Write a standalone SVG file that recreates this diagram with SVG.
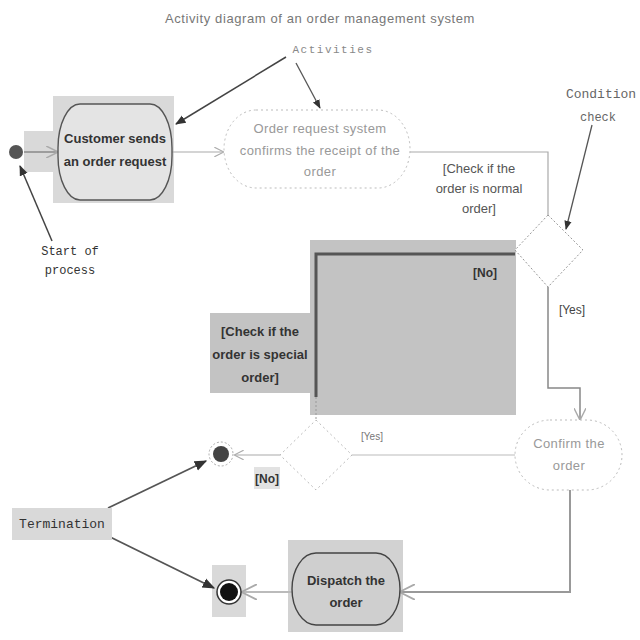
<svg xmlns="http://www.w3.org/2000/svg" width="640" height="640" viewBox="0 0 640 640">
<style>
.sans{font-family:"Liberation Sans",Arial,sans-serif;}
.mono{font-family:"Liberation Mono","Courier New",monospace;}
.bold{font-weight:bold;fill:#333;font-size:13px;}
.light{fill:#999;font-size:13px;letter-spacing:0.4px;}
.hl{fill:#d9d9d9;}
.grey{fill:none;stroke:#aaa;stroke-width:1.2;}
.faint{fill:none;stroke:#bbb;stroke-width:1;}
</style>
<defs>
<marker id="ad" viewBox="0 0 10 10" refX="9" refY="5" markerWidth="7" markerHeight="7" orient="auto-start-reverse"><path d="M0,1 L10,5 L0,9 z" fill="#333"/></marker>
<marker id="ao" viewBox="0 0 10 10" refX="9" refY="5" markerWidth="8" markerHeight="8" orient="auto-start-reverse"><path d="M0,0 L10,5 L0,10" fill="none" stroke="#aaa" stroke-width="1.2"/></marker>
</defs>
<rect width="640" height="640" fill="#fff"/>

<g id="title">
<text x="320" y="23" text-anchor="middle" class="sans" font-size="13" fill="#777" letter-spacing="0.6">Activity diagram of an order management system</text>
</g>

<g id="highlights">
<rect x="24" y="131" width="32" height="41" class="hl"/>
<rect x="53" y="96" width="121" height="107" class="hl"/>
<rect x="310" y="240" width="206" height="175" fill="#c3c3c3"/>
<rect x="210" y="313" width="100" height="80" fill="#c3c3c3"/>
<rect x="254" y="467" width="26" height="22" fill="#e2e2e2"/>
<rect x="288" y="540" width="115" height="92" fill="#d2d2d2"/>
<rect x="212" y="565" width="34" height="52" class="hl"/>
</g>

<g id="connectors">
<line x1="24" y1="152" x2="57" y2="152" stroke="#888" stroke-width="1.5" marker-end="url(#ao)"/>
<line x1="172" y1="152" x2="223" y2="152" class="grey" marker-end="url(#ao)"/>
<polyline points="410,152 548,152 548,215" class="grey"/>
<polyline points="515,254 316,254 316,397" fill="none" stroke="#555" stroke-width="3"/>
<line x1="316" y1="397" x2="316" y2="419" stroke="#999" stroke-width="1" stroke-dasharray="2 2"/>
<polyline points="548,287 548,388 580,388 580,419" fill="none" stroke="#888" stroke-width="1.5" marker-end="url(#ao)"/>
<line x1="515" y1="455" x2="352" y2="455" class="faint"/>
<line x1="280" y1="455" x2="235" y2="455" class="grey" marker-end="url(#ao)"/>
<polyline points="570,490 570,592 401,592" fill="none" stroke="#999" stroke-width="2" marker-end="url(#ao)"/>
<line x1="292" y1="592" x2="243" y2="592" stroke="#bbb" stroke-width="2" marker-end="url(#ao)"/>
<line x1="286" y1="57" x2="176" y2="124" stroke="#444" stroke-width="1.5" marker-end="url(#ad)"/>
<line x1="296" y1="63" x2="320" y2="108" stroke="#555" stroke-width="1.3" marker-end="url(#ad)"/>
<line x1="592" y1="125" x2="566" y2="229" stroke="#555" stroke-width="1.3" marker-end="url(#ad)"/>
<line x1="52" y1="241" x2="20" y2="166" stroke="#444" stroke-width="1.5" marker-end="url(#ad)"/>
<line x1="108" y1="508" x2="206" y2="461" stroke="#555" stroke-width="1.8" marker-end="url(#ad)"/>
<line x1="102" y1="533" x2="214" y2="588" stroke="#555" stroke-width="1.8" marker-end="url(#ad)"/>
</g>

<g id="start">
<circle cx="16" cy="152" r="7" fill="#555"/>
</g>

<g id="customer-sends">
<rect x="58" y="104" width="114" height="96" rx="22" ry="44" fill="#e4e4e4" stroke="#555" stroke-width="1.4"/>
<text x="115" y="143" text-anchor="middle" class="sans bold">Customer sends</text>
<text x="115" y="166" text-anchor="middle" class="sans bold">an order request</text>
</g>

<g id="order-request">
<rect x="224" y="110" width="186" height="78" rx="32" ry="39" fill="#fff" stroke="#bbb" stroke-dasharray="2 3"/>
<text x="320" y="133" text-anchor="middle" class="sans light">Order request system</text>
<text x="320" y="155" text-anchor="middle" class="sans light">confirms the receipt of the</text>
<text x="320" y="176" text-anchor="middle" class="sans light">order</text>
</g>

<g id="decision-normal">
<polygon points="548,215 583,250 548,287 515,250" fill="#fff" stroke="#999" stroke-dasharray="2 2"/>
</g>

<g id="confirm-order">
<rect x="515" y="420" width="107" height="70" rx="35" ry="35" fill="#fff" stroke="#bbb" stroke-dasharray="2 3"/>
<text x="569" y="448" text-anchor="middle" class="sans light">Confirm the</text>
<text x="569" y="470" text-anchor="middle" class="sans light">order</text>
</g>

<g id="decision-special">
<polygon points="316,420 352,455 316,490 280,455" fill="#fff" stroke="#bbb" stroke-dasharray="2 3"/>
</g>

<g id="final-top">
<circle cx="221" cy="454" r="12" fill="#fff" stroke="#aaa" stroke-dasharray="2 2"/>
<circle cx="221" cy="454" r="8" fill="#444"/>
</g>

<g id="dispatch-order">
<rect x="292" y="553" width="108" height="72" rx="24" ry="36" fill="#cfcfcf" stroke="#444" stroke-width="1.4"/>
<text x="346" y="585" text-anchor="middle" class="sans bold">Dispatch the</text>
<text x="346" y="607" text-anchor="middle" class="sans bold">order</text>
</g>

<g id="final-bottom">
<circle cx="229" cy="592" r="12" fill="#fff" stroke="#333" stroke-width="1.5"/>
<circle cx="229" cy="592" r="9" fill="#111"/>
</g>

<g id="labels">
<text x="333" y="53" text-anchor="middle" class="mono" font-size="11" fill="#888" letter-spacing="1.5">Activities</text>
<text x="601" y="98" text-anchor="middle" class="mono" font-size="13" fill="#666">Condition</text>
<text x="598" y="121" text-anchor="middle" class="mono" font-size="12" fill="#666">check</text>
<text x="70" y="255" text-anchor="middle" class="mono" font-size="12" fill="#333">Start of</text>
<text x="70" y="274" text-anchor="middle" class="mono" font-size="12" fill="#333">process</text>
<text x="479" y="173" text-anchor="middle" class="sans" font-size="13" fill="#555">[Check if the</text>
<text x="479" y="193" text-anchor="middle" class="sans" font-size="13" fill="#555">order is normal</text>
<text x="479" y="213" text-anchor="middle" class="sans" font-size="13" fill="#555">order]</text>
<text x="485" y="277" text-anchor="middle" class="sans" font-size="12" font-weight="bold" fill="#333">[No]</text>
<text x="572" y="314" text-anchor="middle" class="sans" font-size="12" fill="#444">[Yes]</text>
<text x="260" y="336" text-anchor="middle" class="sans" font-size="13" font-weight="bold" fill="#333">[Check if the</text>
<text x="260" y="359" text-anchor="middle" class="sans" font-size="13" font-weight="bold" fill="#333">order is special</text>
<text x="260" y="382" text-anchor="middle" class="sans" font-size="13" font-weight="bold" fill="#333">order]</text>
<text x="372" y="440" text-anchor="middle" class="sans" font-size="10" fill="#777">[Yes]</text>
<text x="267" y="483" text-anchor="middle" class="sans" font-size="12" font-weight="bold" fill="#333">[No]</text>
</g>

<g id="termination">
<rect x="12" y="508" width="100" height="32" class="hl"/>
<text x="62" y="528" text-anchor="middle" class="mono" font-size="13" fill="#333">Termination</text>
</g>
</svg>
